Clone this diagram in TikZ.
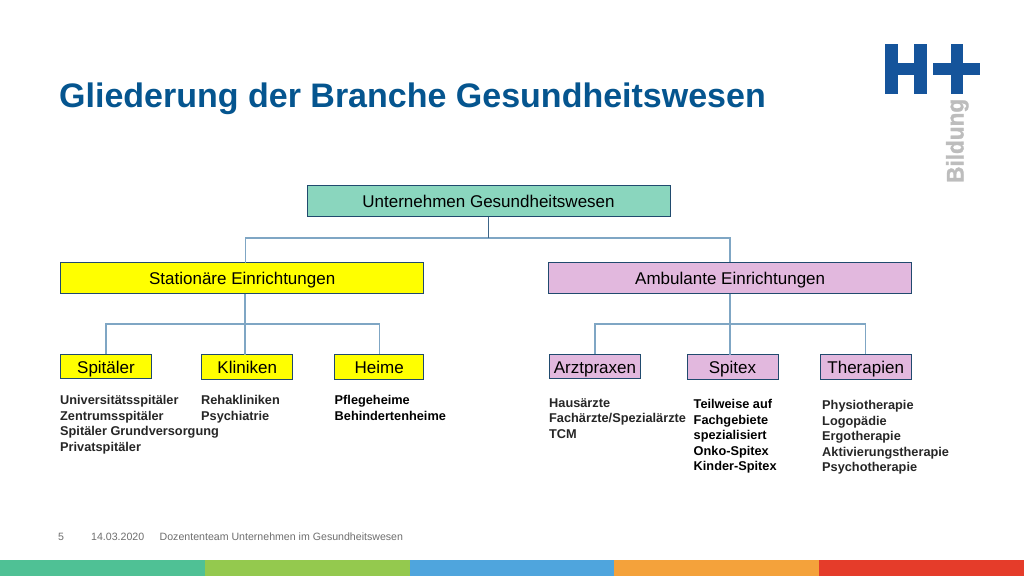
\documentclass[tikz,border=0pt]{standalone}
\usepackage{fontspec}
\setmainfont{Liberation Sans}
\newfontfamily\bildfont[FakeBold=1.2]{Liberation Sans Bold}
\definecolor{titleblue}{HTML}{05558F}
\definecolor{logoblue}{HTML}{15549B}
\definecolor{edgeblue}{HTML}{204A6E}
\definecolor{linkblue}{HTML}{7FA6C4}
\definecolor{tealfill}{HTML}{8AD6BE}
\definecolor{yellowfill}{HTML}{FFFF00}
\definecolor{pinkfill}{HTML}{E2B8DE}
\definecolor{txtdark}{HTML}{262626}
\definecolor{footgray}{HTML}{6E6E6E}
\definecolor{barA}{HTML}{4FC195}
\definecolor{barB}{HTML}{94C94E}
\definecolor{barC}{HTML}{4FA5DD}
\definecolor{barD}{HTML}{F4A23B}
\definecolor{barE}{HTML}{E53C2A}
\definecolor{bildgray}{HTML}{BDBDBD}
\tikzset{
  x=1pt,y=-1pt,
  boxbase/.style={draw=edgeblue,line width=1pt,inner sep=0pt,text=black,text height=14pt,text depth=0.5pt,font=\fontsize{17}{17}\selectfont},
  tealbox/.style={boxbase,fill=tealfill,minimum width=363pt,minimum height=31.5pt},
  bigyellow/.style={boxbase,fill=yellowfill,minimum width=363pt,minimum height=31pt},
  bigpink/.style={boxbase,fill=pinkfill,minimum width=363pt,minimum height=31pt},
  smallyellow/.style={boxbase,fill=yellowfill,minimum width=91pt,minimum height=24.5pt},
  smallpink/.style={boxbase,fill=pinkfill,minimum width=91pt,minimum height=24.5pt},
  link/.style={draw=linkblue,line width=1.1pt},
  listtext/.style={anchor=north west,inner sep=0pt,align=left,text=txtdark,font=\bfseries\fontsize{12.75}{15.4}\selectfont},
  foot/.style={anchor=base west,inner sep=0pt,text=footgray,font=\fontsize{10.6}{12}\selectfont}
}
\begin{document}
\begin{tikzpicture}
\useasboundingbox (0,0) rectangle (1024,576);
\fill[white] (0,0) rectangle (1024,576);
% footer bar
\fill[barA] (0,560) rectangle (205,576);
\fill[barB] (205,560) rectangle (410,576);
\fill[barC] (410,560) rectangle (614,576);
\fill[barD] (614,560) rectangle (819,576);
\fill[barE] (819,560) rectangle (1024,576);
% title
\node[anchor=base west,inner sep=0pt,text=titleblue,font=\bfseries\fontsize{34}{34}\selectfont] (title) at (59,107) {Gliederung der Branche Gesundheitswesen};
% logo
\fill[logoblue] (885,44.3) rectangle (897.5,94);
\fill[logoblue] (914,44.3) rectangle (926.7,94);
\fill[logoblue] (885,63.3) rectangle (926.7,74.5);
\fill[logoblue] (932.7,63.3) rectangle (980,74.5);
\fill[logoblue] (950.7,44.3) rectangle (963,94);
\node[rotate=90,anchor=base west,inner sep=0pt,text=bildgray,font=\bildfont\fontsize{24}{24}\selectfont] (bild) at (963.5,183) {\scalebox{.94}[1]{Bildung}};
% boxes
\node[tealbox] (top) at (488.5,201) {Unternehmen Gesundheitswesen};
\node[bigyellow] (stat) at (242.2,278) {Stationäre Einrichtungen};
\node[bigpink] (amb) at (730.2,277.5) {Ambulante Einrichtungen};
\node[smallyellow] (spit) at (106,366.5) {Spitäler};
\node[smallyellow] (klin) at (247.2,366.8) {Kliniken};
\node[smallyellow,minimum width=89.5pt] (heim) at (379.2,366.8) {Heime};
\node[smallpink] (arzt) at (595,366.5) {Arztpraxen};
\node[smallpink] (sptx) at (732.5,367) {Spitex};
\node[smallpink] (ther) at (865.7,367) {Therapien};
% connector junctions
\coordinate (topbus) at (488,238);
\coordinate (statin) at (245.5,262.5);
\coordinate (ambin) at (730,262);
\coordinate (statout) at (245,293.5);
\coordinate (statbus) at (245,324);
\coordinate (ambbus) at (730,324);
\coordinate (klinin) at (245,354.5);
\coordinate (sptxin) at (730,355);
% connectors
\draw[link] (statin) |- (topbus) -| (ambin);
\draw[edgeblue!70!linkblue,line width=.9pt] (top.south -| topbus) -- (topbus);
\draw[link] (statout) -- (klinin);
\draw[link] (spit.north) |- (statbus) -| (heim.north);
\draw[link] (amb.south -| ambbus) -- (sptxin);
\draw[link] (arzt.north) |- (ambbus) -| (ther.north);
% lists
\node[listtext] (l1) at (60,395.5) {Universitätsspitäler\\Zentrumsspitäler\\Spitäler Grundversorgung\\Privatspitäler};
\node[listtext] (l2) at (201,395.5) {Rehakliniken\\Psychiatrie};
\node[listtext,text=black] (l3) at (334.5,395.5) {Pflegeheime\\Behindertenheime};
\node[listtext] (l4) at (549,398.5) {Hausärzte\\Fachärzte/Spezialärzte\\TCM};
\node[listtext,text=black] (l5) at (693.5,399.5) {Teilweise auf\\Fachgebiete\\spezialisiert\\Onko-Spitex\\Kinder-Spitex};
\node[listtext] (l6) at (822,400.5) {Physiotherapie\\Logopädie\\Ergotherapie\\Aktivierungstherapie\\Psychotherapie};
% footer text
\node[foot] (f1) at (58,540.5) {5};
\node[foot] (f2) at (91,540.5) {14.03.2020};
\node[foot] (f3) at (159.5,540.5) {Dozententeam Unternehmen im Gesundheitswesen};
\end{tikzpicture}
\end{document}
